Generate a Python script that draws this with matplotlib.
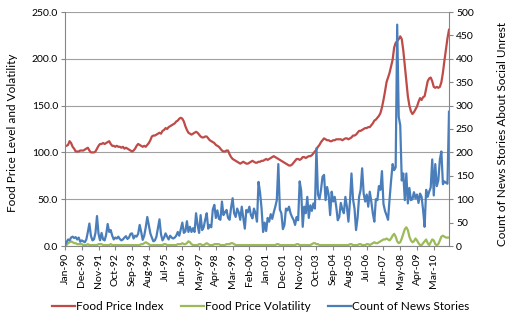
import matplotlib
matplotlib.use("Agg")
import matplotlib.pyplot as plt
from matplotlib.ticker import FormatStrFormatter
import numpy as np
import pandas as pd

# Monthly categories, Jan 1990 - Jan 2011
months = pd.date_range("1990-01-01", periods=253, freq="MS")
month_labels = list(months.strftime("%b-%y"))

tick_labels = ["Jan-90", "Dec-90", "Nov-91", "Oct-92", "Sep-93", "Aug-94",
               "Jul-95", "Jun-96", "May-97", "Apr-98", "Mar-99", "Feb-00",
               "Jan-01", "Dec-01", "Nov-02", "Oct-03", "Sep-04", "Aug-05",
               "Jul-06", "Jun-07", "May-08", "Apr-09", "Mar-10"]

food_price_index = [
    107, 107, 108, 112, 110, 106, 104, 101, 101, 101, 102, 102,   # 1990
    102, 103, 104, 105, 102, 100, 100, 100, 101, 104, 107, 109,   # 1991
    109, 110, 109, 110, 111, 112, 109, 107, 107, 106, 107, 106,   # 1992
    106, 105, 106, 104, 105, 104, 103, 102, 101, 102, 104, 107,   # 1993
    109, 108, 107, 106, 107, 106, 108, 110, 113, 117, 118, 118,   # 1994
    119, 120, 121, 120, 123, 124, 126, 125, 127, 128, 129, 130,   # 1995
    131, 133, 134, 136, 137, 136, 133, 128, 124, 121, 120, 119,   # 1996
    120, 121, 122, 121, 119, 117, 116, 116, 117, 117, 115, 113,   # 1997
    112, 111, 110, 108, 107, 106, 104, 102, 101, 101, 102, 102,   # 1998
    98, 95, 93, 92, 91, 90, 89, 88, 89, 90, 89, 88,               # 1999
    88, 89, 90, 91, 90, 89, 89, 90, 90, 91, 91, 92,               # 2000
    93, 92, 93, 94, 95, 96, 95, 94, 93, 92, 91, 90,               # 2001
    89, 88, 87, 86, 86, 87, 89, 91, 93, 93, 92, 93,               # 2002
    95, 95, 94, 95, 96, 96, 97, 99, 101, 103, 106, 108,           # 2003
    111, 113, 115, 114, 113, 113, 112, 112, 113, 113, 114, 114,   # 2004
    114, 114, 113, 114, 115, 115, 114, 115, 116, 118, 118, 119,   # 2005
    121, 123, 123, 124, 125, 126, 126, 127, 127, 129, 131, 134,   # 2006
    135, 137, 139, 142, 148, 156, 165, 175, 180, 185, 192, 199,   # 2007
    212, 217, 219, 221, 224, 221, 209, 193, 178, 160, 150, 144,   # 2008
    141, 143, 146, 149, 154, 158, 156, 159, 160, 168, 176, 179,   # 2009
    180, 176, 170, 169, 170, 169, 170, 175, 185, 198, 210, 222,   # 2010
    231,                                                          # 2011
]

food_price_volatility = [
    0, 1, 3, 4, 5, 4, 3, 3, 2, 2, 2, 2,       # 1990
    1, 1, 1, 2, 1, 1, 1, 1, 1, 1, 2, 2,       # 1991
    2, 1, 1, 1, 1, 1, 2, 1, 1, 1, 1, 1,       # 1992
    1, 1, 1, 1, 1, 1, 1, 1, 1, 1, 1, 1,       # 1993
    1, 1, 2, 2, 3, 4, 3, 2, 1, 1, 1, 1,       # 1994
    1, 1, 1, 1, 1, 2, 2, 1, 1, 1, 1, 1,       # 1995
    1, 1, 2, 2, 2, 3, 2, 2, 3, 5, 4, 2,       # 1996
    1, 1, 1, 1, 2, 2, 1, 1, 2, 3, 2, 1,       # 1997
    1, 1, 2, 2, 2, 2, 1, 1, 1, 1, 2, 2,       # 1998
    2, 3, 3, 2, 1, 1, 1, 1, 1, 1, 1, 1,       # 1999
    1, 1, 1, 1, 1, 1, 1, 1, 1, 1, 1, 1,       # 2000
    1, 1, 1, 1, 1, 1, 1, 2, 2, 1, 1, 1,       # 2001
    1, 1, 1, 1, 1, 1, 1, 1, 2, 2, 1, 1,       # 2002
    1, 1, 1, 1, 1, 1, 2, 3, 3, 2, 2, 1,       # 2003
    1, 1, 1, 1, 1, 1, 1, 1, 1, 1, 1, 1,       # 2004
    1, 1, 1, 1, 1, 1, 1, 2, 2, 1, 1, 1,       # 2005
    1, 2, 2, 1, 1, 1, 2, 2, 1, 2, 3, 4,       # 2006
    3, 3, 4, 5, 6, 7, 7, 8, 7, 6, 8, 11,      # 2007
    13, 10, 5, 3, 4, 8, 13, 18, 20, 17, 10, 6,  # 2008
    4, 5, 8, 6, 3, 1, 1, 3, 5, 7, 3, 1,       # 2009
    4, 7, 6, 2, 1, 2, 6, 10, 11, 10, 9, 9,    # 2010
    9,                                        # 2011
]

news_story_count = [
    2, 8, 14, 12, 18, 20, 17, 19, 14, 18, 9, 12,               # 1990
    10, 8, 14, 30, 48, 22, 12, 14, 28, 64, 26, 12,             # 1991
    28, 14, 12, 24, 47, 30, 34, 22, 14, 18, 16, 20,            # 1992
    15, 12, 14, 18, 21, 15, 18, 26, 27, 16, 22, 20,            # 1993
    26, 45, 30, 13, 22, 40, 62, 45, 27, 18, 10, 12,            # 1994
    20, 38, 57, 25, 12, 18, 27, 20, 14, 22, 18, 16,            # 1995
    18, 22, 30, 22, 36, 50, 28, 31, 53, 30, 41, 30,            # 1996
    38, 30, 70, 45, 28, 66, 34, 40, 56, 70, 37, 45,            # 1997
    40, 78, 88, 60, 76, 58, 56, 95, 66, 72, 77, 60,            # 1998
    56, 82, 102, 70, 62, 80, 72, 56, 84, 60, 37, 77,           # 1999
    72, 84, 66, 59, 80, 70, 52, 137, 114, 80, 30, 50,          # 2000
    32, 60, 52, 68, 58, 72, 84, 98, 175, 78, 70, 36,           # 2001
    45, 80, 76, 84, 70, 62, 56, 45, 62, 55, 138, 118,          # 2002
    41, 84, 70, 105, 60, 87, 75, 91, 80, 209, 110, 100,        # 2003
    120, 148, 152, 98, 126, 110, 66, 116, 95, 105, 84, 55,     # 2004
    62, 92, 78, 70, 105, 84, 52, 95, 155, 100, 80, 34,         # 2005
    60, 105, 120, 166, 112, 95, 110, 84, 116, 95, 70, 52,      # 2006
    100, 98, 128, 120, 160, 90, 75, 66, 56, 100, 140, 175,     # 2007
    162, 168, 473, 276, 258, 140, 155, 98, 155, 91, 124, 98,   # 2008
    100, 115, 102, 110, 92, 112, 105, 77, 41, 120, 105, 116,   # 2009
    125, 185, 108, 175, 128, 140, 185, 202, 132, 138, 135, 133,  # 2010
    287,                                                       # 2011
]

RED = "#BE4B48"
GREEN = "#9BBB59"
BLUE = "#4A7EBB"
AXIS_GREY = "#868686"
GRID_GREY = "#A0A0A0"

plt.rcParams["font.family"] = ["Lato", "DejaVu Sans"]

W, H = 512, 325
fig = plt.figure(figsize=(W / 100, H / 100), dpi=100)
left_px, right_px, top_px, bottom_px = 65, 449, 12, 246
ax = fig.add_axes([left_px / W, 1 - bottom_px / H,
                   (right_px - left_px) / W, (bottom_px - top_px) / H])
ax2 = ax.twinx()

x = np.arange(len(months))
l1, = ax.plot(x, food_price_index, color=RED, lw=1.6,
              solid_joinstyle="round", label="Food Price Index")
l2, = ax.plot(x, food_price_volatility, color=GREEN, lw=1.6,
              solid_joinstyle="round", label="Food Price Volatility")
l3, = ax2.plot(x, news_story_count, color=BLUE, lw=1.6,
               solid_joinstyle="round", label="Count of News Stories")

ax.set_xlim(0, len(months) - 1)
ax.set_ylim(0, 250)
ax2.set_ylim(0, 500)

ax.set_yticks(np.arange(0, 251, 50))
ax.yaxis.set_major_formatter(FormatStrFormatter("%.1f"))
ax2.set_yticks(np.arange(0, 501, 50))

tick_pos = [month_labels.index(t) for t in tick_labels]
ax.set_xticks(tick_pos)
ax.set_xticklabels(tick_labels, rotation=90)

ax.grid(axis="y", color=GRID_GREY, lw=0.8)
ax.set_axisbelow(True)

for a in (ax, ax2):
    a.spines["top"].set_visible(False)
ax.spines["right"].set_visible(False)
ax2.spines["left"].set_visible(False)
ax2.spines["bottom"].set_visible(False)
for s in (ax.spines["left"], ax.spines["bottom"], ax2.spines["right"]):
    s.set_color(AXIS_GREY)
    s.set_linewidth(0.8)

ax.tick_params(axis="x", length=3, color=AXIS_GREY, labelsize=7.5, pad=2)
ax.tick_params(axis="y", length=3, color=AXIS_GREY, labelsize=7.5, pad=2)
ax2.tick_params(axis="y", length=3, color=AXIS_GREY, labelsize=7.5, pad=2)

ax.set_ylabel("Food Price Level and Volatility", fontsize=8.5)
ax.yaxis.set_label_coords(-0.122, 0.485)
ax2.set_ylabel("Count of News Stories About Social Unrest", fontsize=8.5,
               rotation=90)
ax2.yaxis.set_label_coords(1.125, 0.48)

fig.legend(handles=[l1, l2, l3], loc="center", bbox_to_anchor=(0.509, 0.058),
           ncol=3, frameon=False, fontsize=8.5, handlelength=1.95,
           handletextpad=0.1, columnspacing=1.45)

fig.savefig("out.png", dpi=100)
